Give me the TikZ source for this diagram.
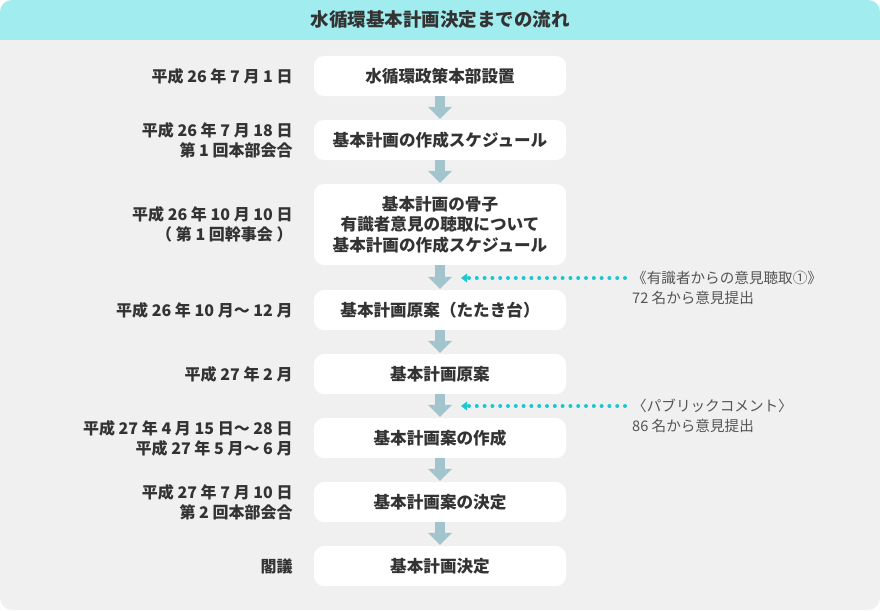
\documentclass[tikz,border=0pt]{standalone}
\usepackage{fontspec}
\setmainfont{Noto Sans CJK JP}
\usetikzlibrary{positioning,arrows.meta}
\definecolor{headcyan}{HTML}{A0ECEE}
\definecolor{panelgray}{HTML}{F0F0F0}
\definecolor{flowblue}{HTML}{A2C4CC}
\definecolor{dotcyan}{HTML}{1CC8D0}
\definecolor{textdark}{HTML}{333333}
\definecolor{notegray}{HTML}{555555}

\begin{document}
\begin{tikzpicture}[x=1pt, y=-1pt,
    stage/.style={fill=white, rounded corners=10pt, minimum width=252pt, minimum height=40pt,
      inner sep=0pt, align=center, text=textdark, font=\fontsize{16.6pt}{20.5pt}\selectfont\bfseries},
    when/.style={inner sep=0pt, align=right, text=textdark, font=\fontsize{16pt}{20pt}\selectfont\bfseries},
    note/.style={inner sep=0pt, anchor=west, text=notegray, font=\fontsize{14.6pt}{20pt}\selectfont},
    flow/.style={flowblue, line width=10pt, -{Triangle[length=12pt, width=24pt, line width=0pt]}},
    dotline/.style={dotcyan, line width=4pt, line cap=round, dash pattern=on 0pt off 7.8pt,
      shorten <=7pt, -{Triangle[length=6pt, width=9pt, line width=0pt]}}]

    % Panel
    \useasboundingbox (0,0) rectangle (880,610);
    \begin{scope}
      \clip[rounded corners=12pt] (0,0) rectangle (880,610);
      \fill[panelgray] (0,0) rectangle (880,610);
      \fill[headcyan] (0,0) rectangle (880,40);
    \end{scope}
    \node[text=textdark, font=\fontsize{18.5pt}{20pt}\selectfont\bfseries] (title) at (440,20) {水循環基本計画決定までの流れ};

    % Stages
    \node[stage] (b1) at (440,76) {水循環政策本部設置};
    \node[stage] (b2) at (440,140) {基本計画の作成スケジュール};
    \node[stage, minimum height=81pt] (b3) at (440,224.5) {基本計画の骨子\\有識者意見の聴取について\\基本計画の作成スケジュール};
    \node[stage] (b4) at (440,310) {基本計画原案（たたき台）};
    \node[stage] (b5) at (440,374) {基本計画原案};
    \node[stage] (b6) at (440,438) {基本計画案の作成};
    \node[stage] (b7) at (440,502) {基本計画案の決定};
    \node[stage] (b8) at (440,566) {基本計画決定};

    % Dates
    \node[when, left=21pt of b1] (d1) {平成 26 年 7 月 1 日};
    \node[when, left=21pt of b2] (d2) {平成 26 年 7 月 18 日\\第 1 回本部会合};
    \node[when, left=21pt of b3] (d3) {平成 26 年 10 月 10 日\\（ 第 1 回幹事会 ）};
    \node[when, left=21pt of b4] (d4) {平成 26 年 10 月〜 12 月};
    \node[when, left=21pt of b5] (d5) {平成 27 年 2 月};
    \node[when, left=21pt of b6] (d6) {平成 27 年 4 月 15 日〜 28 日\\平成 27 年 5 月〜 6 月};
    \node[when, left=21pt of b7] (d7) {平成 27 年 7 月 10 日\\第 2 回本部会合};
    \node[when, left=21pt of b8] (d8) {閣議};

    % Flow arrows
    \foreach \i/\j in {b1/b2, b2/b3, b3/b4, b4/b5, b5/b6, b6/b7, b7/b8}
      \draw[flow] (\i.south) -- ([yshift=1pt]\j.north);

    % Notes
    \node[note] (n1) at (632,278) {《有識者からの意見聴取①》};
    \node[note] (n1b) at (632,298) {72 名から意見提出};
    \node[note] (n2) at (632,406) {〈パブリックコメント〉};
    \node[note] (n2b) at (632,426) {86 名から意見提出};
    \coordinate (j1) at (461,278);
    \coordinate (j2) at (461,406);
    \draw[dotline] (n1.west) -- (j1);
    \draw[dotline] (n2.west) -- (j2);
\end{tikzpicture}
\end{document}
